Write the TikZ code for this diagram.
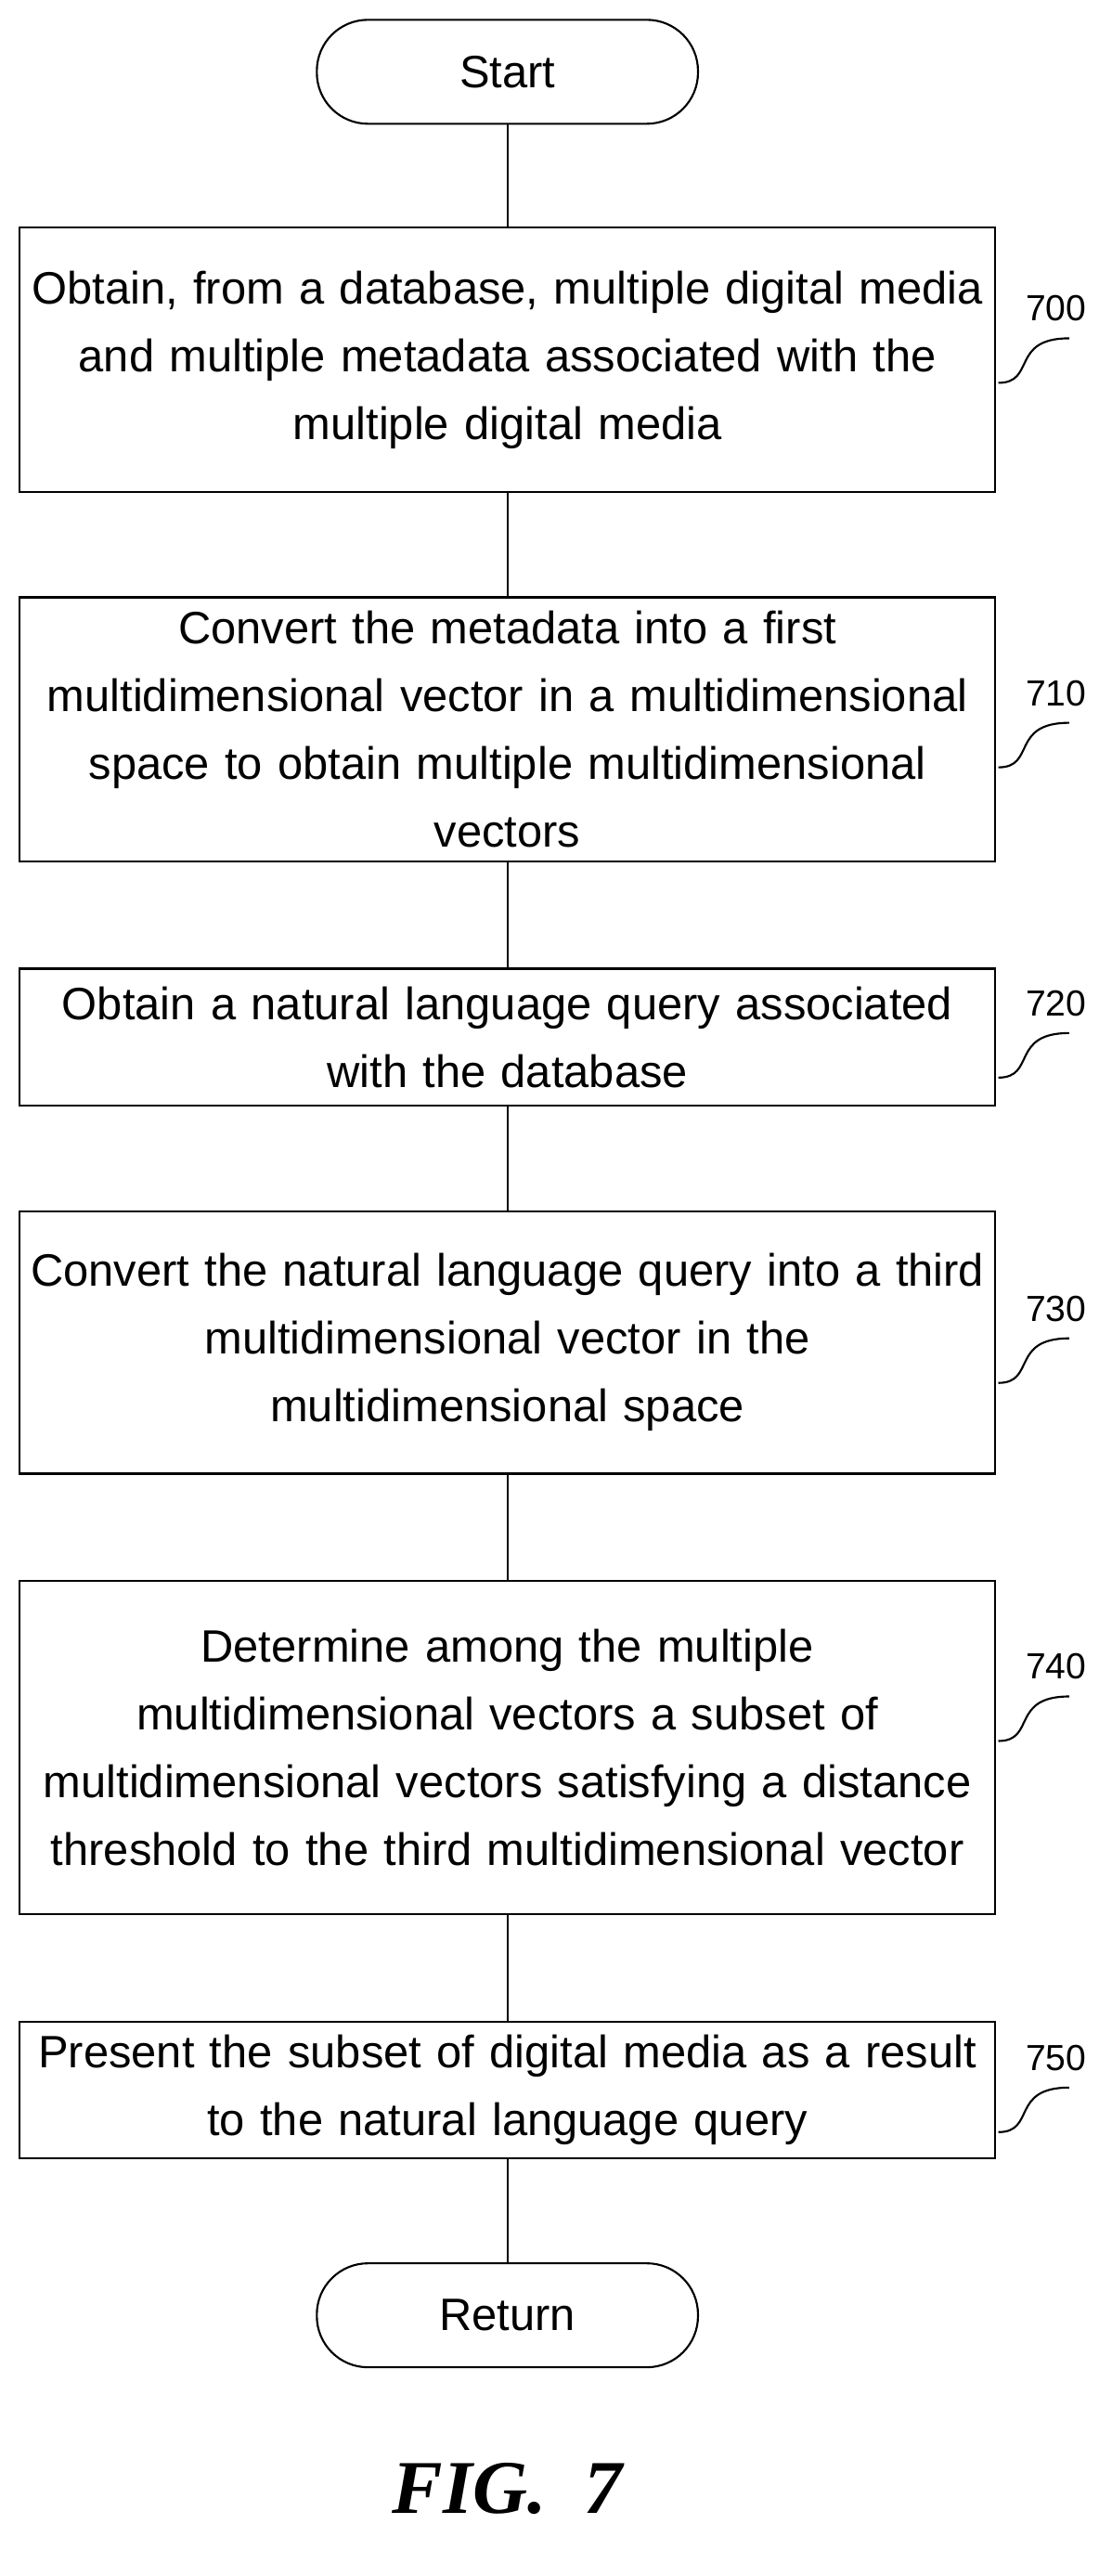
\documentclass[tikz,border=0pt]{standalone}
\usepackage{fontspec}
\setmainfont{Liberation Sans}
\newfontfamily\figfont{Liberation Serif}
\begin{document}
\begin{tikzpicture}[x=1pt,y=-1pt,
  box/.style={draw,line width=1.2pt,minimum width=591pt,text width=591pt,align=center,inner sep=0pt,font=\fontsize{27.5}{41}\selectfont},
  term/.style={draw,line width=1.2pt,rounded corners=31pt,minimum width=231pt,minimum height=63pt,font=\fontsize{27.5}{30}\selectfont},
  lbl/.style={font=\fontsize{22}{24}\selectfont},
  sq/.style={line width=1.2pt},
  ln/.style={line width=1.2pt}]
\useasboundingbox (0,0) rectangle (666,1561);
\node[term] (s) at (307.5,43.5) {Start};
\node[box,minimum height=160pt] (b700) at (307.5,218) {Obtain, from a database, multiple digital media\\ and multiple metadata associated with the\\ multiple digital media};
\node[box,minimum height=160pt] (b710) at (307.5,442) {Convert the metadata into a first\\ multidimensional vector in a multidimensional\\ space to obtain multiple multidimensional\\ vectors};
\node[box,minimum height=83pt] (b720) at (307.5,628.5) {Obtain a natural language query associated\\ with the database};
\node[box,minimum height=159pt] (b730) at (307.5,813.5) {Convert the natural language query into a third\\ multidimensional vector in the\\ multidimensional space};
\node[box,minimum height=202pt] (b740) at (307.5,1059) {Determine among the multiple\\ multidimensional vectors a subset of\\ multidimensional vectors satisfying a distance\\ threshold to the third multidimensional vector};
\node[box,minimum height=83pt] (b750) at (307.5,1266.5) {Present the subset of digital media as a result\\ to the natural language query};
\node[term] (r) at (307.5,1403) {Return};
\draw[ln] (s)--(b700); \draw[ln] (b700)--(b710); \draw[ln] (b710)--(b720);
\draw[ln] (b720)--(b730); \draw[ln] (b730)--(b740); \draw[ln] (b740)--(b750); \draw[ln] (b750)--(r);
\foreach \n/\y in {700/187,710/420,720/608,730/793,740/1010,750/1247}{
  \node[lbl] (l\n) at (640,\y) {\n};
  \coordinate (c\n) at (605,\y+45);
  \draw[sq] (c\n) .. controls (628,\y+45) and (612,\y+18) .. (648,\y+18);
}
\node[font=\figfont\bfseries\itshape\fontsize{46}{50}\selectfont] (fig) at (307.5,1508) {FIG.\ \ 7};
\end{tikzpicture}
\end{document}
